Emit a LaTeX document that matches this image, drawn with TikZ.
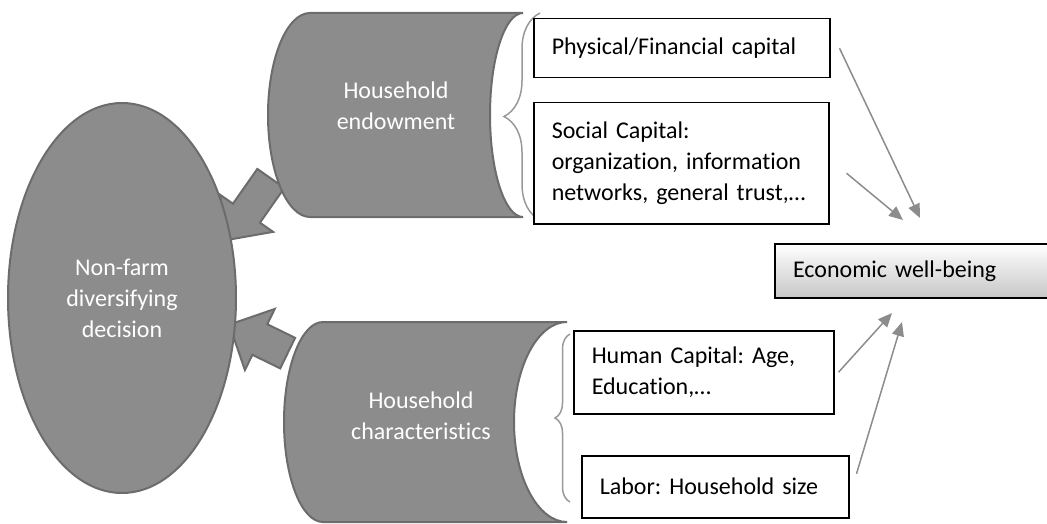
\documentclass[tikz,border=0pt]{standalone}
\usepackage{fontspec}
\setmainfont{Carlito}[Ligatures=CommonOff]
\usetikzlibrary{shapes.geometric,shapes.arrows,arrows.meta,decorations.pathreplacing}

\definecolor{shapegray}{RGB}{140,140,140}
\definecolor{edgegray}{RGB}{108,108,108}
\definecolor{linkgray}{RGB}{140,140,140}

\tikzset{
	every node/.style={font=\fontsize{24}{31}\selectfont\frenchspacing},
	hhshape/.style={fill=shapegray, draw=edgegray, line width=2pt},
	hhlabel/.style={text=white, align=center},
	blockarrow/.style={single arrow, fill=shapegray, draw=edgegray, line width=2pt,
		inner xsep=0pt, inner ysep=15.5pt, single arrow head extend=16pt},
	itembox/.style={draw=black, fill=white, line width=1.5pt, anchor=north west,
		align=left, inner xsep=18pt, inner ysep=0pt},
	link/.style={draw=linkgray, line width=1.5pt, -{Triangle[length=14pt,width=12pt]}},
	bracket/.style={draw=black!40, line width=1.5pt, decorate},
}

\begin{document}
\begin{tikzpicture}[x=1pt,y=-1pt]
	\useasboundingbox (0,0) rectangle (1047,524);

	% fat arrows into the decision
	\node [blockarrow, rotate=235, minimum width=63pt, minimum height=75pt, anchor=tip] (endowarrow) at (227,241) {};
	\node [blockarrow, rotate=154, minimum width=66pt, minimum height=65pt, anchor=tip,
		inner ysep=16pt, single arrow head extend=17pt] (charsarrow) at (228,324) {};

	\node [hhshape, ellipse, minimum width=228pt, minimum height=390pt, inner sep=0pt, hhlabel]
		(decision) at (122,298) {Non-farm\\diversifying\\decision};

	% the two cylinders
	\draw [hhshape] (310,13) -- (523,13)
		arc [start angle=270, end angle=90, x radius=33, y radius=102] -- (310,217)
		arc [start angle=90, end angle=270, x radius=42, y radius=102] -- cycle;
	\node [hhlabel] (endowlabel) at (396,106) {Household\\endowment};

	\draw [hhshape] (323,322) -- (567,322)
		arc [start angle=270, end angle=90, x radius=53, y radius=100] -- (323,522)
		arc [start angle=90, end angle=270, x radius=39, y radius=100] -- cycle;
	\node [hhlabel] (charslabel) at (421,416) {Household\\characteristics};

	\draw [bracket, decoration={brace, amplitude=36pt}] (540,220) -- (540,13);
	\draw [bracket, decoration={brace, amplitude=15pt}] (570,502) -- (570,334);

	\node [itembox, text width=260pt, minimum height=59pt] (physical) at (533,18) {Physical/Financial capital};
	\node [itembox, text width=259pt, minimum height=121pt] (social) at (533,102)
		{Social Capital:\\organization, information\\networks, general trust,\dots};
	\node [itembox, text width=224pt, minimum height=83pt] (human) at (573,330)
		{Human Capital: Age,\\Education,\dots};
	\node [itembox, text width=231pt, minimum height=62pt] (labor) at (581,455) {Labor: Household size};

	\node [itembox, text width=242pt, minimum height=54pt, line width=2pt,
		top color=white, bottom color=black!22] (econ) at (774,243) {Economic well-being};

	% loose arrow ends above and below the outcome box
	\coordinate (endA) at (920,218);
	\coordinate (endB) at (903,220);
	\coordinate (endC) at (892,313);
	\coordinate (endD) at (902,322);

	\draw [link] ([xshift=9pt]physical.east) -- (endA);
	\draw [link] ([shift={(17,10)}]social.east) -- (endB);
	\draw [link] ([xshift=4pt]human.east) -- (endC);
	\draw [link] ([shift={(7,-13)}]labor.east) -- (endD);

\end{tikzpicture}
\end{document}
